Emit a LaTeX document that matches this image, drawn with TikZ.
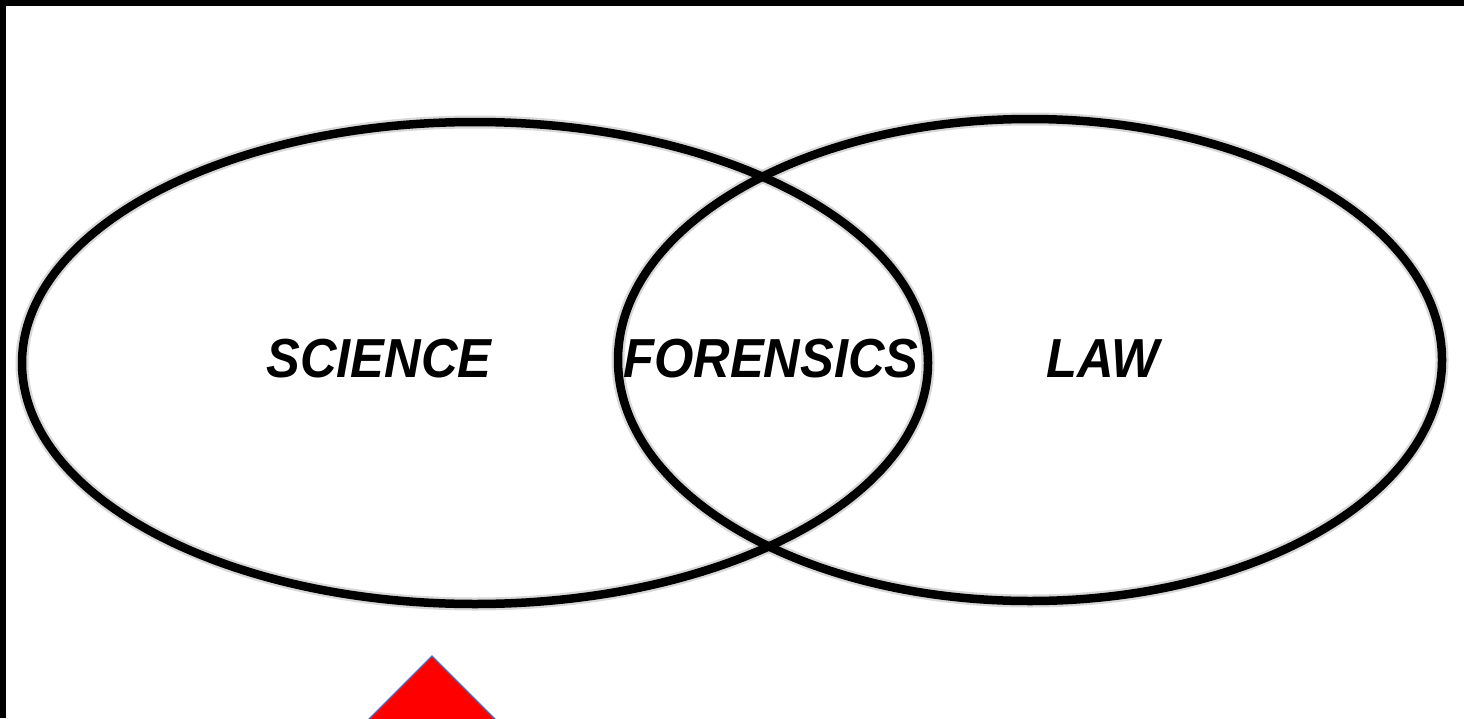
\documentclass[tikz,border=0pt]{standalone}
\usepackage{fontspec}
\setmainfont{Liberation Sans}
\usetikzlibrary{shapes.geometric}
\definecolor{triblue}{RGB}{68,114,196}
\tikzset{
  ring/.style={draw=black, line width=8.5pt},
  halo/.style={draw=black!30, line width=13pt, opacity=0.5},
  lbl/.style={font=\fontsize{55}{55}\selectfont\bfseries\itshape, inner sep=0pt, xscale=0.92, text=black},
  tri/.style={fill=red, draw=triblue, line width=1.3pt, line join=miter}
}
\begin{document}
\begin{tikzpicture}[x=1pt,y=-1pt]
\useasboundingbox (0,0) rectangle (1464,718);
\fill[black] (0,0) rectangle (1464,718);
\fill[white] (6,6) rectangle (1464,718);
% soft halos
\draw[halo] (475,363) ellipse [x radius=453pt, y radius=241pt];
\draw[halo] (1030,360) ellipse [x radius=412pt, y radius=241pt];
% rings
\draw[ring] (475,363) ellipse [x radius=453pt, y radius=241pt];
\draw[ring] (1030,360) ellipse [x radius=412pt, y radius=241pt];
% labels
\node[lbl] (science) at (379,359) {SCIENCE};
\node[lbl] (forensics) at (771,359) {FORENSICS};
\node[lbl] (law) at (1103,359) {LAW};
% triangle
\begin{scope}
\clip (0,0) rectangle (1464,718);
\draw[tri] (360,728) -- (432,656) -- (504,728) -- cycle;
\end{scope}
\end{tikzpicture}
\end{document}
